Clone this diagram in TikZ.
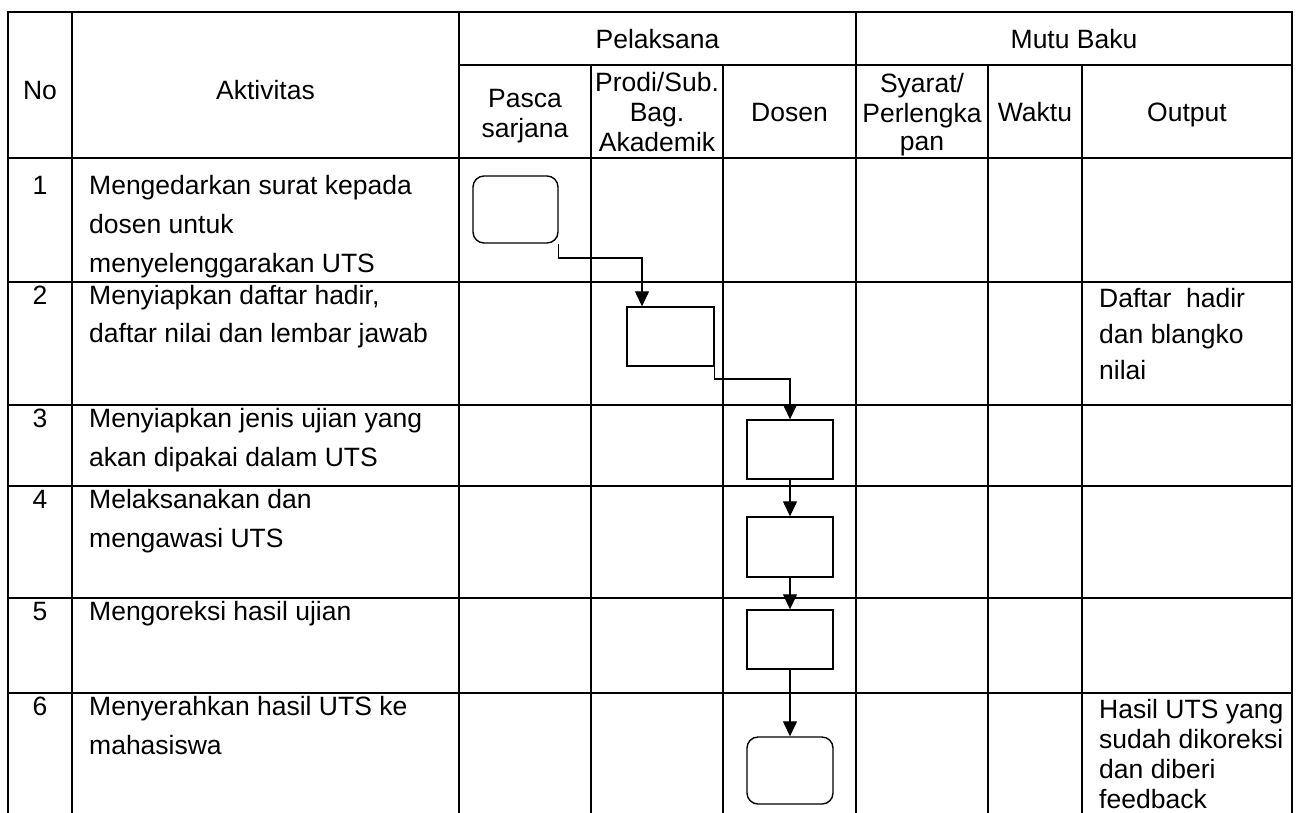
\documentclass[tikz,border=0pt]{standalone}
\usepackage{fontspec}
\setmainfont{Liberation Sans}
\usetikzlibrary{arrows.meta}
\begin{document}
\begin{tikzpicture}[x=1pt,y=-1pt,
  grid/.style={line width=2pt, line cap=rect},
  txt/.style={font=\fontsize{26.5}{30}\selectfont, inner sep=0pt, anchor=base west},
  ctr/.style={font=\fontsize{26.5}{30}\selectfont, inner sep=0pt, anchor=base},
  proc/.style={draw, line width=1.4pt, minimum width=86pt, minimum height=59pt, inner sep=0pt},
  term/.style={proc, rounded corners=11pt},
  flow/.style={line width=1.3pt, -{Triangle[length=15pt,width=14pt]}}
]
\useasboundingbox (0,0) rectangle (1300,812);
% grid
\foreach \yy in {12,158,282,405,486,598,693} \draw[grid] (8,\yy) -- (1292,\yy);
\draw[grid] (459,65) -- (1292,65);
\foreach \xx in {8,72,459,856,1292} \draw[grid] (\xx,12) -- (\xx,812);
\foreach \xx in {591,723,988,1082} \draw[grid] (\xx,65) -- (\xx,812);
% header
\node[ctr] (hNo) at (40,99) {No};
\node[ctr] (hAkt) at (265.5,99) {Aktivitas};
\node[ctr] (hPel) at (657.5,48) {Pelaksana};
\node[ctr] (hMut) at (1074,48) {Mutu Baku};
\node[ctr] (hPas1) at (525,107) {Pasca};
\node[ctr] (hPas2) at (525,137) {sarjana};
\node[ctr] (hPro1) at (657,91) {Prodi/Sub.};
\node[ctr] (hPro2) at (657,121) {Bag.};
\node[ctr] (hPro3) at (657,151) {Akademik};
\node[ctr] (hDos) at (789.5,121) {Dosen};
\node[ctr] (hSy1) at (922,92) {Syarat/};
\node[ctr] (hSy2) at (922,122) {Perlengka};
\node[ctr] (hSy3) at (922,150) {pan};
\node[ctr] (hWak) at (1035,121) {Waktu};
\node[ctr] (hOut) at (1187,121) {Output};
% row 1
\node[ctr] (n1) at (40,194) {1};
\node[txt] (a1a) at (89,194) {Mengedarkan surat kepada};
\node[txt] (a1b) at (89,233) {dosen untuk};
\node[txt] (a1c) at (89,272) {menyelenggarakan UTS};
% row 2
\node[ctr] (n2) at (40,304) {2};
\node[txt] (a2a) at (89,304) {Menyiapkan daftar hadir,};
\node[txt] (a2b) at (89,342) {daftar nilai dan lembar jawab};
\node[txt] (o2a) at (1099,307) {Daftar\ \ hadir};
\node[txt] (o2b) at (1099,343) {dan blangko};
\node[txt] (o2c) at (1099,379) {nilai};
% row 3
\node[ctr] (n3) at (40,427) {3};
\node[txt] (a3a) at (89,427) {Menyiapkan jenis ujian yang};
\node[txt] (a3b) at (89,466) {akan dipakai dalam UTS};
% row 4
\node[ctr] (n4) at (40,508) {4};
\node[txt] (a4a) at (89,508) {Melaksanakan dan};
\node[txt] (a4b) at (89,547) {mengawasi UTS};
% row 5
\node[ctr] (n5) at (40,620) {5};
\node[txt] (a5a) at (89,620) {Mengoreksi hasil ujian};
% row 6
\node[ctr] (n6) at (40,715) {6};
\node[txt] (a6a) at (89,715) {Menyerahkan hasil UTS ke};
\node[txt] (a6b) at (89,754) {mahasiswa};
\node[txt] (o6a) at (1099,718) {Hasil UTS yang};
\node[txt] (o6b) at (1099,748) {sudah dikoreksi};
\node[txt] (o6c) at (1099,778) {dan diberi};
\node[txt] (o6d) at (1099,808) {feedback};
% flow boxes
\node[term, minimum width=85pt, minimum height=67pt] (b1) at (515.5,209.5) {};
\node[proc, minimum width=87pt] (b2) at (670.5,336.5) {};
\node[proc] (b3) at (790,449.5) {};
\node[proc, minimum height=60pt] (b4) at (790,547) {};
\node[proc] (b5) at (790,639.5) {};
\node[term, minimum height=67pt] (b6) at (790,770.5) {};
% connectors
\coordinate (c1) at (642,258);
\coordinate (c2) at (790,379);
\draw[flow] (b1.south east) |- (c1) -- (c1 |- b2.north);
\draw[flow] (b2.south east) |- (c2) -- (b3.north);
\draw[flow] (b3) -- (b4);
\draw[flow] (b4) -- (b5);
\draw[flow] (b5) -- (b6);
\end{tikzpicture}
\end{document}
